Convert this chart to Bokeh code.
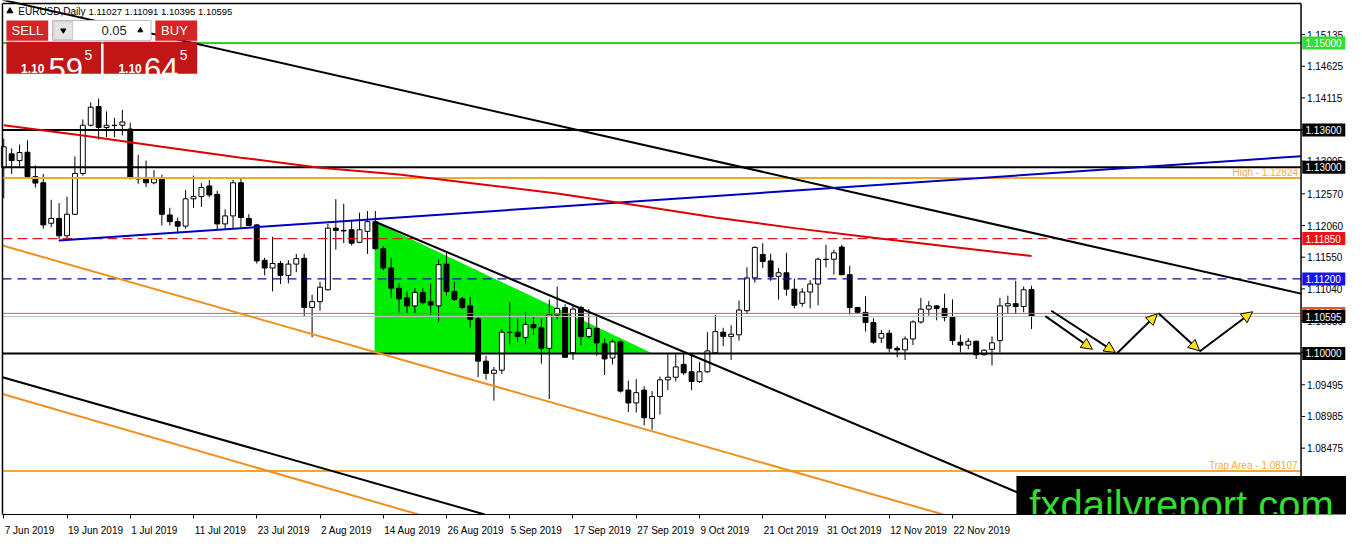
from bokeh.plotting import figure
from bokeh.models import Range1d, FixedTicker, Arrow, NormalHead
from bokeh.core.properties import value
from bokeh.embed import file_html
from bokeh.resources import INLINE

# EURUSD daily candles, one per trading day from 7 Jun 2019 (bar 0) to 6 Dec 2019 (bar 130)
opens = [
    1.12992, 1.13214, 1.13106, 1.13240, 1.12847, 1.12748, 1.12096, 1.12174, 1.11894, 1.12241,
    1.12898, 1.13675, 1.13975, 1.13639, 1.13675, 1.13675, 1.13613, 1.12826, 1.12811, 1.12748,
    1.12811, 1.12230, 1.12122, 1.12050, 1.12490, 1.12526, 1.12697, 1.12562, 1.12086, 1.12215,
    1.12748, 1.12174, 1.12070, 1.11500, 1.11376, 1.11449, 1.11257, 1.11439, 1.11532, 1.10741,
    1.10834, 1.11025, 1.12018, 1.11982, 1.11992, 1.11790, 1.11966, 1.12122, 1.11687, 1.11376,
    1.11051, 1.10895, 1.10766, 1.10983, 1.10833, 1.10766, 1.11439, 1.10999, 1.10880, 1.10766,
    1.10559, 1.09876, 1.09680, 1.09731, 1.10342, 1.10342, 1.10259, 1.10466, 1.10414, 1.10083,
    1.10621, 1.10740, 1.10010, 1.10740, 1.10274, 1.10404, 1.10155, 1.09927, 1.10186, 1.09410,
    1.09203, 1.09410, 1.08954, 1.09306, 1.09575, 1.09617, 1.09824, 1.09705, 1.09549, 1.09705,
    1.10010, 1.10342, 1.10274, 1.10300, 1.10688, 1.11216, 1.11594, 1.11490, 1.11242, 1.11299,
    1.11035, 1.10807, 1.10989, 1.11118, 1.11517, 1.11517, 1.11713, 1.11268, 1.10740, 1.10662,
    1.10497, 1.10248, 1.10326, 1.10083, 1.10057, 1.10233, 1.10507, 1.10714, 1.10766, 1.10725,
    1.10585, 1.10181, 1.10135, 1.10197, 1.09979, 1.10067, 1.10207, 1.10766, 1.10802, 1.10756,
    1.11027,
]
highs = [
    1.13458, 1.13302, 1.13364, 1.13432, 1.13028, 1.12888, 1.12474, 1.12422, 1.12526, 1.13173,
    1.13768, 1.14043, 1.14104, 1.13898, 1.13794, 1.13923, 1.13716, 1.13199, 1.13106, 1.12950,
    1.12878, 1.12345, 1.12189, 1.12630, 1.12863, 1.12743, 1.12795, 1.12619, 1.12320, 1.12795,
    1.12810, 1.12241, 1.12086, 1.11542, 1.11879, 1.11490, 1.11500, 1.11604, 1.11604, 1.10947,
    1.11155, 1.12086, 1.12484, 1.12412, 1.12153, 1.12267, 1.12293, 1.12293, 1.11723, 1.11542,
    1.11128, 1.10999, 1.11051, 1.11051, 1.11128, 1.11516, 1.11620, 1.11154, 1.10911, 1.10911,
    1.10600, 1.09964, 1.09783, 1.10393, 1.10828, 1.10560, 1.10673, 1.10585, 1.10560, 1.10870,
    1.11077, 1.10792, 1.10766, 1.10766, 1.10714, 1.10611, 1.10238, 1.10222, 1.10207, 1.09565,
    1.09586, 1.09472, 1.09394, 1.09627, 1.09989, 1.09989, 1.09989, 1.09989, 1.09860, 1.10342,
    1.10621, 1.10414, 1.10456, 1.10854, 1.11387, 1.11724, 1.11775, 1.11605, 1.11377, 1.11620,
    1.11206, 1.11051, 1.11180, 1.11542, 1.11749, 1.11672, 1.11749, 1.11413, 1.10750, 1.10921,
    1.10569, 1.10378, 1.10378, 1.10119, 1.10274, 1.10533, 1.10895, 1.10844, 1.10776, 1.10963,
    1.10870, 1.10300, 1.10248, 1.10207, 1.10067, 1.10274, 1.10895, 1.10932, 1.11170, 1.11077,
    1.11091,
]
lows = [
    1.12500, 1.12888, 1.13018, 1.12837, 1.12671, 1.12008, 1.12034, 1.11843, 1.11853, 1.12230,
    1.12863, 1.13654, 1.13447, 1.13484, 1.13484, 1.13510, 1.12800, 1.12733, 1.12681, 1.12722,
    1.12060, 1.12060, 1.11931, 1.12008, 1.12345, 1.12360, 1.12516, 1.11998, 1.11998, 1.12018,
    1.12008, 1.12050, 1.11449, 1.11257, 1.10999, 1.11118, 1.11128, 1.11309, 1.10601, 1.10259,
    1.10688, 1.11015, 1.11672, 1.11775, 1.11739, 1.11775, 1.11604, 1.11672, 1.11340, 1.10895,
    1.10662, 1.10652, 1.10637, 1.10792, 1.10621, 1.10507, 1.10932, 1.10844, 1.10714, 1.10414,
    1.09617, 1.09576, 1.09240, 1.09670, 1.10145, 1.10186, 1.10145, 1.10300, 1.09834, 1.09265,
    1.10549, 1.09927, 1.09897, 1.10134, 1.10238, 1.09964, 1.09653, 1.09824, 1.09369, 1.09058,
    1.09048, 1.08840, 1.08773, 1.09017, 1.09410, 1.09549, 1.09653, 1.09410, 1.09524, 1.09690,
    1.09990, 1.10119, 1.09896, 1.10207, 1.10637, 1.11139, 1.11377, 1.11170, 1.10866, 1.10932,
    1.10725, 1.10756, 1.10725, 1.10776, 1.11387, 1.11273, 1.11258, 1.10626, 1.10637, 1.10352,
    1.10155, 1.10171, 1.10016, 1.09938, 1.09896, 1.10135, 1.10481, 1.10610, 1.10533, 1.10518,
    1.10135, 1.10016, 1.10067, 1.09912, 1.09969, 1.09808, 1.10016, 1.10637, 1.10637, 1.10663,
    1.10395,
]
closes = [
    1.13328, 1.13106, 1.13235, 1.12847, 1.12743, 1.12070, 1.12174, 1.11894, 1.12241, 1.12898,
    1.13675, 1.13965, 1.13639, 1.13675, 1.13670, 1.13727, 1.12837, 1.12811, 1.12748, 1.12811,
    1.12241, 1.12122, 1.12050, 1.12490, 1.12526, 1.12671, 1.12552, 1.12086, 1.12215, 1.12748,
    1.12189, 1.12060, 1.11490, 1.11376, 1.11449, 1.11257, 1.11439, 1.11527, 1.10741, 1.10834,
    1.11067, 1.12018, 1.11982, 1.11972, 1.11775, 1.11992, 1.12122, 1.11687, 1.11376, 1.11051,
    1.10880, 1.10766, 1.10983, 1.10818, 1.10781, 1.11429, 1.10999, 1.10870, 1.10740, 1.10549,
    1.09876, 1.09680, 1.09731, 1.10342, 1.10337, 1.10274, 1.10466, 1.10414, 1.10083, 1.10621,
    1.10725, 1.09938, 1.10714, 1.10274, 1.10404, 1.10170, 1.09912, 1.10186, 1.09394, 1.09203,
    1.09369, 1.08965, 1.09306, 1.09575, 1.09617, 1.09783, 1.09689, 1.09549, 1.09705, 1.10041,
    1.10352, 1.10274, 1.10310, 1.10699, 1.11216, 1.11708, 1.11480, 1.11232, 1.11299, 1.11035,
    1.10776, 1.10989, 1.11118, 1.11517, 1.11512, 1.11620, 1.11268, 1.10740, 1.10662, 1.10497,
    1.10181, 1.10320, 1.10083, 1.10057, 1.10233, 1.10507, 1.10714, 1.10766, 1.10725, 1.10585,
    1.10207, 1.10135, 1.10197, 1.09979, 1.10052, 1.10171, 1.10766, 1.10802, 1.10756, 1.11025,
    1.10595,
]

date_ticks = [0, 8, 16, 24, 32, 40, 48, 56, 64, 72, 80, 88, 96, 104, 112, 120]
date_labels = ["7 Jun 2019", "19 Jun 2019", "1 Jul 2019", "11 Jul 2019", "23 Jul 2019",
               "2 Aug 2019", "14 Aug 2019", "26 Aug 2019", "5 Sep 2019", "17 Sep 2019",
               "27 Sep 2019", "9 Oct 2019", "21 Oct 2019", "31 Oct 2019", "12 Nov 2019",
               "22 Nov 2019"]
price_ticks = [1.15135, 1.14625, 1.14115, 1.13605, 1.13095, 1.12570, 1.12060, 1.11550,
               1.11040, 1.10530, 1.10020, 1.09495, 1.08985, 1.08475, 1.07965]

# red moving average, sampled every 10 bars
ma_bars = [0, 10, 20, 30, 40, 50, 60, 70, 80, 90, 100, 110, 120, 130]
ma_values = [1.13675, 1.13509, 1.13328, 1.13152, 1.12992, 1.12883, 1.12730, 1.12575,
             1.12385, 1.12190, 1.12018, 1.11863, 1.11716, 1.11568]

# trend lines: (bars, prices) of start and end
black_top = ([-0.16, 164.1], [1.15693, 1.10963])
black_mid = ([46.96, 134.84], [1.12120, 1.07407])
black_low = ([-0.16, 60.84], [1.09618, 1.07407])
orange_up = ([-0.16, 118.84], [1.11738, 1.07407])
orange_dn = ([-0.16, 52.46], [1.09347, 1.07407])
blue_line = ([6.96, 164.1], [1.11817, 1.13176])
triangle_bars = [46.9, 46.9, 81.9]
triangle_prices = [1.1212, 1.1001, 1.1001]

# projected path arrows
arrow_x0 = [131.75, 132.5, 140.85, 146.05, 151.25]
arrow_y0 = [1.10601, 1.10688, 1.10006, 1.10648, 1.10031]
arrow_x1 = [137.7, 140.6, 145.9, 151.25, 157.96]
arrow_y1 = [1.10067, 1.10016, 1.10637, 1.10042, 1.10672]

high_level = 1.12824
trap_level = 1.08107
ask_line = 1.10645
bid_line = 1.10595
tag_levels = [1.15, 1.136, 1.13, 1.1185, 1.112, ask_line, bid_line, 1.10]
tag_colors = ["#33dd33", "black", "black", "#ee1111", "#1414ee", "#e05a20", "black", "black"]


# reference pixel -> chart coordinates (layout of panel, scale and captions)
def px(x):
    return (x - 3.3) / 8.0


def py(y):
    return 1.15 - (y - 44) / 6440.0


FONT = "Liberation Sans"
W, H = 1346, 538
X0, X1 = px(0), px(1362)
BAR_PX = W / (X1 - X0)

# approximate Liberation Sans advance widths (per 1000 em) to left-align date labels
ADV = {" ": 278, "J": 500, "u": 556, "n": 556, "l": 222, "A": 667, "g": 556, "S": 667,
       "e": 556, "p": 556, "O": 778, "c": 500, "t": 278, "N": 722, "o": 556, "v": 500}


def text_px(s, size=10):
    return sum(ADV.get(ch, 556) for ch in s) * size / 1000.0


label_pos = [round(t + (text_px(s) / 2 + 1) / BAR_PX, 3) for t, s in zip(date_ticks, date_labels)]

p = figure(width=W, height=H, x_range=Range1d(X0, X1), y_range=Range1d(py(533), py(0)),
           output_backend="svg", toolbar_location=None,
           min_border_left=0, min_border_top=0, min_border_right=0, min_border_bottom=0)
p.outline_line_color = None
p.grid.visible = False
p.yaxis.visible = False

p.xaxis.ticker = FixedTicker(ticks=label_pos, minor_ticks=date_ticks)
p.xaxis.major_label_overrides = dict(zip(label_pos, date_labels))
p.xaxis.bounds = (px(2), px(1316))
p.xaxis.major_tick_in = 0
p.xaxis.major_tick_out = 0
p.xaxis.minor_tick_in = 0
p.xaxis.minor_tick_out = 4
p.xaxis.minor_tick_line_color = "black"
p.xaxis.major_label_standoff = 6
p.xaxis.major_label_text_font = FONT
p.xaxis.major_label_text_font_size = "10px"
p.xaxis.major_label_text_color = "black"
p.xaxis.axis_line_color = "black"

# green triangle pattern
p.patch(triangle_bars, triangle_prices, fill_color="#00ee00", line_color=None)

# candles
idx = list(range(len(opens)))
up = [i for i in idx if closes[i] >= opens[i]]
dn = [i for i in idx if closes[i] < opens[i]]
p.segment(x0=idx, y0=lows, x1=idx, y1=highs, line_color="black", line_width=1)
p.vbar(x=up, width=0.62, bottom=[opens[i] for i in up], top=[closes[i] for i in up],
       fill_color="white", line_color="black", line_width=1)
p.vbar(x=dn, width=0.62, bottom=[closes[i] for i in dn], top=[opens[i] for i in dn],
       fill_color="black", line_color="black", line_width=1)

# horizontal levels (chart area only)
L, R = px(2), px(1316)


def level(ys, **kw):
    p.segment(x0=[L] * len(ys), y0=ys, x1=[R] * len(ys), y1=ys, **kw)


level([1.15], line_color="#33cc33", line_width=2)
level([1.136, 1.13, 1.10], line_color="black", line_width=2)
level([high_level, trap_level], line_color="#f0a830", line_width=2)
level([1.1185], line_color="#d81c1c", line_width=1.2, line_dash="10 5")
level([1.112], line_color="#0a0aa8", line_width=1.3, line_dash="9 6")
level([ask_line], line_color="#e06030", line_width=1)
level([bid_line], line_color="#c0c0c0", line_width=1)

p.text(x=[px(1313)], y=[py(178)], text=["High - 1.12824"], text_align="right",
       text_baseline="middle", text_color="#f2ae40", text_font=value(FONT), text_font_size="10px")
p.text(x=[px(1313)], y=[py(482)], text=["Trap Area - 1.08107"], text_align="right",
       text_baseline="middle", text_color="#f2ae40", text_font=value(FONT), text_font_size="10px")

# header
p.scatter(x=[px(9.5)], y=[py(11)], marker="triangle", size=6, color="black")
p.text(x=[px(18)], y=[py(11)], text=["EURUSD,Daily"], text_baseline="middle",
       text_font=value(FONT), text_font_size="10px", text_color="black")
p.text(x=[px(89)], y=[py(11)], text=["1.11027 1.11091 1.10395 1.10595"], text_baseline="middle",
       text_font=value(FONT), text_font_size="9.5px", text_color="black")

# trend lines and moving average
for xs, ys in (black_top, black_mid, black_low):
    p.line(xs, ys, line_color="black", line_width=2)
for xs, ys in (orange_up, orange_dn):
    p.line(xs, ys, line_color="#f09020", line_width=2)
p.line(blue_line[0], blue_line[1], line_color="#0000c0", line_width=2)
p.line(ma_bars, ma_values, line_color="#e00000", line_width=2)

for x0, y0, x1, y1 in zip(arrow_x0, arrow_y0, arrow_x1, arrow_y1):
    p.add_layout(Arrow(end=NormalHead(size=11, fill_color="#ffe014", line_color="black", line_width=1),
                       x_start=x0, y_start=y0, x_end=x1, y_end=y1,
                       line_color="black", line_width=2))

# chart frame and price scale
p.segment(x0=[L, L, R], y0=[py(3), py(533), py(3)], x1=[R, L, R], y1=[py(3), py(3), py(533)],
          line_color="black", line_width=1.5)
p.segment(x0=[R] * len(price_ticks), y0=price_ticks, x1=[px(1320)] * len(price_ticks), y1=price_ticks,
          line_color="black", line_width=1)
p.text(x=[px(1322)] * len(price_ticks), y=price_ticks, text=["%.5f" % t for t in price_ticks],
       text_baseline="middle", text_font=value(FONT), text_font_size="10px", text_color="black")

# price tags on the scale, each box with its own text on top
for lvl, bg in zip(tag_levels, tag_colors):
    p.rect(x=[px(1339)], y=[lvl], width=43, height=13, width_units="screen", height_units="screen",
           fill_color=bg, line_color=None)
    p.text(x=[px(1320.5)], y=[lvl], text=["%.5f" % lvl], text_baseline="middle",
           text_font=value(FONT), text_font_size="10px", text_color="white")

# one-click trading panel
p.quad(left=[px(6), px(156.7), px(6), px(104.3)], right=[px(48.3), px(199), px(101.7), px(199)],
       top=[py(20.7), py(20.7), py(42.7), py(42.7)], bottom=[py(41.7), py(41.7), py(76), py(76)],
       fill_color=["#d42626", "#d42626", "#c21616", "#c21616"], line_color=None)
p.quad(left=[px(52.7)], right=[px(152.3)], top=[py(20.7)], bottom=[py(41.7)],
       fill_color="white", line_color="#b8b8b8")
p.quad(left=[px(54), px(132)], right=[px(73), px(151)], top=[py(22)], bottom=[py(40.5)],
       fill_color="#e4e4e4", line_color="#c8c8c8")
p.scatter(x=[px(63.5)], y=[py(31)], marker="inverted_triangle", size=5, color="black")
p.scatter(x=[px(141.5)], y=[py(31)], marker="triangle", size=5, color="black")
p.text(x=[px(127.7)], y=[py(31)], text=["0.05"], text_align="right", text_baseline="middle",
       text_font=value(FONT), text_font_size="13px", text_color="#222222")
p.text(x=[px(27.2), px(176)], y=[py(31), py(31)], text=["SELL", "BUY"], text_align="center",
       text_baseline="middle", text_font=value(FONT), text_font_size="13px", text_color="white")
p.text(x=[px(20.7), px(119.3)], y=[py(70.5), py(70.5)], text=["1.10", "1.10"],
       text_baseline="alphabetic", text_font=value(FONT), text_font_size="12px",
       text_font_style="bold", text_color="white")
p.text(x=[px(48.5), px(145.2)], y=[py(70.7), py(70.7)], text=["59", "64"],
       text_baseline="alphabetic", text_font=value(FONT), text_font_size="31px", text_color="white")
p.text(x=[px(85), px(181.5)], y=[py(57), py(57)], text=["5", "5"],
       text_baseline="alphabetic", text_font=value(FONT), text_font_size="14px", text_color="white")

# watermark box
p.quad(left=[px(1028)], right=[px(1362)], top=[py(493)], bottom=[py(560)],
       fill_color="black", line_color=None)
p.text(x=[px(1041)], y=[py(523)], text=["fxdailyreport.com"], text_baseline="alphabetic",
       text_font=value(FONT), text_font_size="40px", text_color="#33dd33")

open("out.html", "w").write(file_html(p, INLINE))
